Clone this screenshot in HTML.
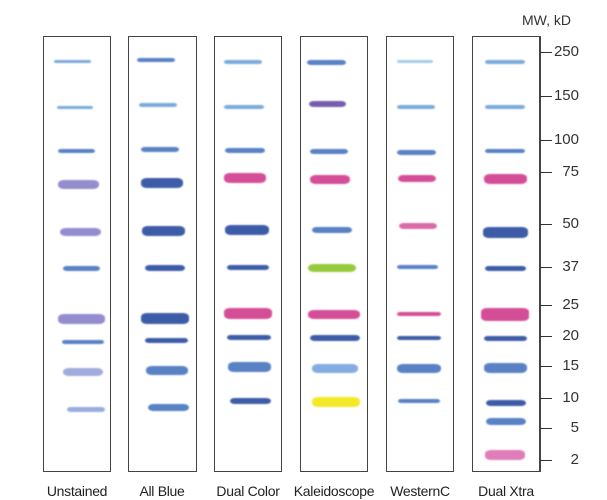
<!DOCTYPE html>
<html><head><meta charset="utf-8"><style>
body{margin:0;width:607px;height:500px;background:#fff;position:relative;overflow:hidden;font-family:"Liberation Sans",sans-serif;color:#222}
.lane{position:absolute;top:36px;height:436px;border:1px solid #444;box-sizing:border-box;background:#fff}
.b{position:absolute;border-radius:6px/4px;filter:blur(0.9px);opacity:0.92}
.lab{position:absolute;top:483px;font-size:14px;text-align:center;width:100px;letter-spacing:-0.3px}
.t{position:absolute;left:540px;width:12px;height:1px;background:#333}
.n{position:absolute;left:548px;width:31px;text-align:right;font-size:15px;color:#333}
</style></head><body>
<div class="lane" style="left:43px;width:68px"></div>
<div class="lane" style="left:128px;width:69px"></div>
<div class="lane" style="left:214px;width:68px"></div>
<div class="lane" style="left:300px;width:68px"></div>
<div class="lane" style="left:386px;width:68px"></div>
<div class="lane" style="left:472px;width:68px"></div>
<div style="position:absolute;left:540px;top:36px;width:1px;height:436px;background:#444"></div>
<div id="bands"></div>
<div class="lab" style="left:27px">Unstained</div>
<div class="lab" style="left:112px">All Blue</div>
<div class="lab" style="left:198px">Dual Color</div>
<div class="lab" style="left:284px">Kaleidoscope</div>
<div class="lab" style="left:370px">WesternC</div>
<div class="lab" style="left:456px">Dual Xtra</div>
<div style="position:absolute;left:522px;top:12px;font-size:14px;color:#333">MW, kD</div>
<div class="t" style="top:52px"></div><div class="n" style="top:43px">250</div>
<div class="t" style="top:96px"></div><div class="n" style="top:87px">150</div>
<div class="t" style="top:140px"></div><div class="n" style="top:131px">100</div>
<div class="t" style="top:172px"></div><div class="n" style="top:163px">75</div>
<div class="t" style="top:224px"></div><div class="n" style="top:215px">50</div>
<div class="t" style="top:267px"></div><div class="n" style="top:258px">37</div>
<div class="t" style="top:305px"></div><div class="n" style="top:296px">25</div>
<div class="t" style="top:336px"></div><div class="n" style="top:327px">20</div>
<div class="t" style="top:366px"></div><div class="n" style="top:357px">15</div>
<div class="t" style="top:398px"></div><div class="n" style="top:389px">10</div>
<div class="t" style="top:428px"></div><div class="n" style="top:419px">5</div>
<div class="t" style="top:460px"></div><div class="n" style="top:451px">2</div>
<script>
var L='#6fa3d8',M='#4a78c0',D='#2d4fa0',P='#d1408f',V='#8a84cc';
var data=[
[[61,54,91,3,L],[107,57,93,3,L],[151,58,95,4,M],[184,58,99,9,V],[232,60,101,8,V],[268,63,100,5,M],[319,58,105,10,V],[342,62,104,4,M],[372,63,103,8,'#9aa4dc'],[409,67,105,5,'#8fa6dc']],
[[60,137,175,4,M],[105,139,177,4,L],[149,141,179,5,M],[183,141,183,10,D],[231,142,185,10,D],[268,145,185,6,D],[318,141,189,11,D],[340,145,188,5,D],[370,146,188,9,M],[407,148,189,7,M]],
[[62,224,262,4,L],[107,224,264,4,L],[150,225,265,5,M],[178,224,266,10,P],[230,225,269,10,D],[267,227,269,5,D],[313,224,272,11,P],[337,227,271,5,D],[367,228,271,10,M],[401,230,271,6,D]],
[[62,307,346,5,M],[104,309,346,6,'#6a4fa8'],[151,310,348,5,M],[179,310,350,9,P],[230,312,352,6,M],[268,308,356,8,'#8ec62e'],[314,308,360,9,P],[338,310,360,6,D],[368,312,358,9,'#7aa6e0'],[402,312,360,10,'#f3e817']],
[[61,397,433,3,'#9cc8ec'],[107,397,435,4,L],[152,397,436,5,M],[178,398,436,7,P],[226,399,437,6,'#d4609e'],[267,397,438,4,M],[314,397,441,4,P],[338,397,441,4,D],[368,397,441,9,M],[401,398,440,4,M]],
[[62,485,525,4,L],[107,485,525,4,L],[151,485,525,4,M],[179,484,527,10,P],[232,483,528,11,D],[268,485,526,5,D],[314,481,529,13,P],[338,484,527,5,D],[368,484,527,10,M],[403,486,526,6,D],[421,486,526,7,M],[455,485,525,10,'#dc72b4']]
];
var h='';data.forEach(function(l){l.forEach(function(b){h+='<div class="b" style="left:'+b[1]+'px;width:'+(b[2]-b[1])+'px;top:'+(b[0]-b[3]/2)+'px;height:'+b[3]+'px;background:'+b[4]+'"></div>';});});
document.getElementById('bands').innerHTML=h;
</script>
</body></html>
